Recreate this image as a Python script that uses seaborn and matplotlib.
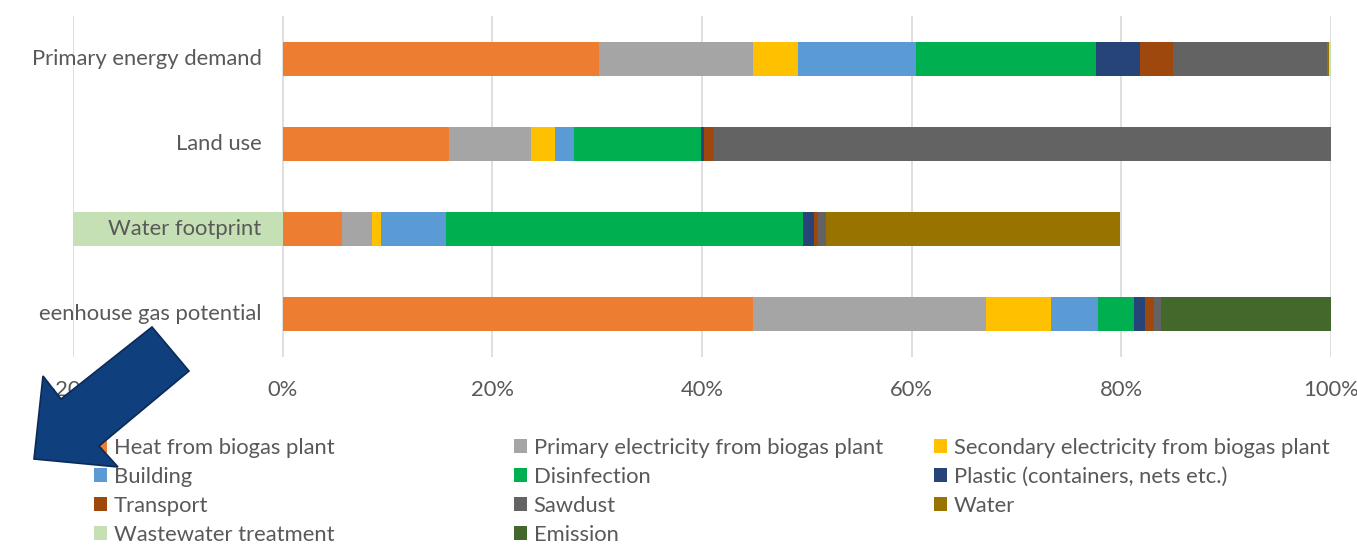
import matplotlib
matplotlib.use("Agg")
import matplotlib.pyplot as plt
import seaborn as sns
import numpy as np
import pandas as pd
from matplotlib.patches import Patch, Polygon
from matplotlib.transforms import Bbox

# categories (top to bottom) and each contribution in %
categories = ["Primary energy demand", "Land use", "Water footprint",
              "Greenhouse gas potential"]

series_names = ["Heat from biogas plant", "Primary electricity from biogas plant",
                "Secondary electricity from biogas plant", "Building", "Disinfection",
                "Plastic (containers, nets etc.)", "Transport", "Sawdust", "Water",
                "Wastewater treatment", "Emission"]

heat = [30.2, 15.9, 5.7, 44.9]
primary_elec = [14.7, 7.8, 2.8, 22.2]
secondary_elec = [4.3, 2.3, 0.9, 6.2]
building = [11.2, 1.8, 6.2, 4.5]
disinfection = [17.2, 12.1, 34.0, 3.4]
plastic = [4.2, 0.3, 1.1, 1.1]
transport = [3.1, 0.9, 0.4, 0.8]
sawdust = [14.7, 58.9, 0.7, 0.7]
water = [0.2, 0.0, 28.1, 0.0]
wastewater = [0.2, 0.0, -20.0, 0.0]
emission = [0.0, 0.0, 0.0, 16.2]

colors = ["#ED7D31", "#A5A5A5", "#FFC000", "#5B9BD5", "#00B050", "#264478",
          "#9E480E", "#636363", "#997300", "#C5E0B4", "#43682B"]

ticks = [-20, 0, 20, 40, 60, 80, 100]
tick_labels = ["-20%", "0%", "20%", "40%", "60%", "80%", "100%"]

values = np.array([heat, primary_elec, secondary_elec, building, disinfection,
                   plastic, transport, sawdust, water, wastewater, emission])

sns.set_theme(style="white")
plt.rcParams["font.family"] = ["Lato", "DejaVu Sans"]
TXT = "#595959"
FS = 15.8

fig = plt.figure(figsize=(13.57, 5.47), dpi=100)
ax = fig.add_axes([73 / 1357, 0.348, (1331 - 73) / 1357, 0.970 - 0.348])

# stacked bars: draw cumulative totals from the last series back to the first
cum_pos = np.cumsum(np.clip(values, 0, None), axis=0)
cum_neg = np.cumsum(np.clip(values, None, 0), axis=0)
for k in range(len(series_names) - 1, -1, -1):
    for cum in (cum_pos, cum_neg):
        df = pd.DataFrame({"category": categories, "value": cum[k]})
        sns.barplot(data=df, x="value", y="category", order=categories,
                    orient="h", color=colors[k], saturation=1, width=0.4,
                    linewidth=0, errorbar=None, ax=ax)

ax.set_xlim(-20, 100)
ax.set_ylim(3.5, -0.5)
ax.set_xticks(ticks)
ax.set_xticklabels(tick_labels, color=TXT, fontsize=FS)
ax.tick_params(axis="x", length=0, pad=17)
ax.set_yticks([])
ax.set_xlabel("")
ax.set_ylabel("")
for s in ax.spines.values():
    s.set_visible(False)
ax.set_axisbelow(True)
ax.xaxis.grid(True, color="#D9D9D9", linewidth=1.2)

for i, cat in enumerate(categories):
    t = ax.text(-2.0, i, cat, ha="right", va="center", color=TXT,
                fontsize=FS, zorder=5)
    if cat.startswith("Greenhouse"):
        # the source picture is cropped through this label
        t.set_clip_on(True)
        t.set_clip_box(Bbox.from_extents(39, 0, 1357, 547))

# legend in three columns, read row by row
handles = [Patch(facecolor=c, edgecolor="none") for c in colors]
col_x = [94, 514, 934]
for j in range(3):
    idx = list(range(j, len(series_names), 3))
    fig.legend([handles[i] for i in idx], [series_names[i] for i in idx],
               loc="upper left", bbox_to_anchor=(col_x[j] / 1357, 1 - 438 / 547),
               frameon=False, fontsize=FS, labelcolor=TXT, handlelength=0.57,
               handleheight=0.57, handletextpad=0.32, labelspacing=0.41,
               borderpad=0, borderaxespad=0)

# block arrow overlay pointing at the legend
arrow_px = [(152, 327), (189, 371), (99, 446), (118, 467), (34, 459),
            (43, 376), (61, 399)]
arrow = Polygon([(x / 1357, 1 - y / 547) for x, y in arrow_px], closed=True,
                facecolor="#103F7D", edgecolor="#0A2B57", linewidth=1.2,
                transform=fig.transFigure, zorder=20)
fig.add_artist(arrow)

fig.savefig("out.png", dpi=100)
